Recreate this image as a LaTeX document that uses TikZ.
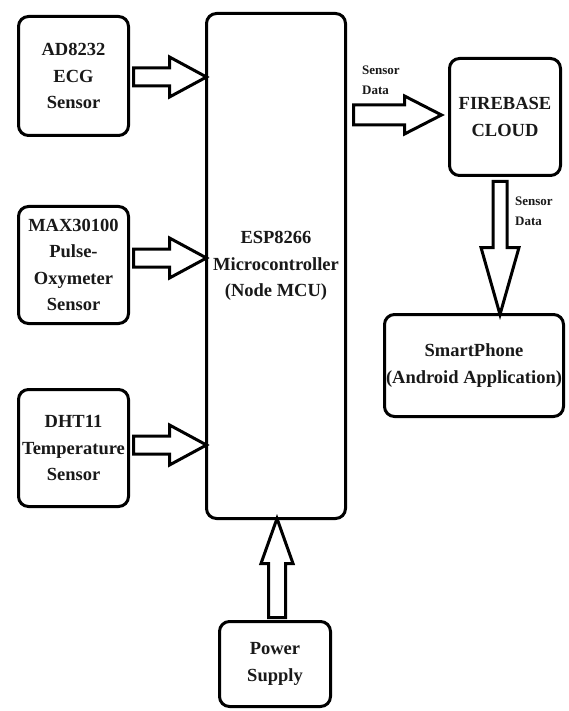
\documentclass[tikz,border=0pt]{standalone}
\usepackage{fontspec}
\setmainfont{Liberation Serif}
\usetikzlibrary{calc}
\tikzset{
  box/.style={draw=black, line width=3pt, rounded corners=10pt, fill=white, align=center,
    font=\fontsize{18.5}{26.5}\selectfont\bfseries, text=black!90, inner sep=0pt, outer sep=0pt},
  blk/.style={draw=black, line width=3pt, line join=miter},
  lbl/.style={font=\fontsize{13}{20}\selectfont\bfseries, align=left, inner sep=0pt, text=black!90}
}
% block arrow: #1 start, #2 tip, #3 half shaft, #4 half head, #5 head length
\newcommand\blockarrow[5]{%
  \coordinate (bam) at ($(#2)!#5!(#1)$);
  \draw[blk] ($(#1)!#3!90:(#2)$) -- ($(bam)!#3!90:(#2)$) -- ($(bam)!#4!90:(#2)$) -- (#2)
    -- ($(bam)!#4!-90:(#2)$) -- ($(bam)!#3!-90:(#2)$) -- ($(#1)!#3!-90:(#2)$) -- cycle;}
\begin{document}
\begin{tikzpicture}[x=1pt, y=-1pt]
\useasboundingbox (0,0) rectangle (568,711);
\node[box, minimum width=110pt, minimum height=119pt] (ad) at (73.5,76) {AD8232\\ECG\\Sensor};
\node[box, minimum width=110pt, minimum height=117pt] (max) at (73.5,265) {MAX30100\\Pulse-\\Oxymeter\\Sensor};
\node[box, minimum width=110pt, minimum height=117pt] (dht) at (73.5,448) {DHT11\\Temperature\\Sensor};
\node[box, minimum width=139pt, minimum height=505pt] (esp) at (276,266) {ESP8266\\Microcontroller\\(Node MCU)};
\node[box, minimum width=111pt, minimum height=117pt] (fb) at (505,117) {FIREBASE\\CLOUD};
\node[box, minimum width=179pt, minimum height=102pt] (sp) at (474,365.5) {SmartPhone\\(Android Application)};
\node[box, minimum width=111pt, minimum height=85pt] (ps) at (275,664) {Power\\Supply};
\node[lbl, anchor=west] (l1) at (362,80) {Sensor\\Data};
\node[lbl, anchor=west] (l2) at (515,211) {Sensor\\Data};
% arrows
\coordinate (a1s) at ($(ad.east)+(5,1)$);
\coordinate (a1e) at (esp.west |- a1s);
\blockarrow{a1s}{a1e}{9pt}{20pt}{37pt}
\coordinate (a2s) at ($(max.east)+(5,-7)$);
\coordinate (a2e) at (esp.west |- a2s);
\blockarrow{a2s}{a2e}{9pt}{20pt}{37pt}
\coordinate (a3s) at ($(dht.east)+(5,-3)$);
\coordinate (a3e) at (esp.west |- a3s);
\blockarrow{a3s}{a3e}{9pt}{20pt}{37pt}
\coordinate (a4s) at ($(esp.east |- fb.west)+(8,-2)$);
\coordinate (a4e) at ($(fb.west)+(-8,-2)$);
\blockarrow{a4s}{a4e}{10pt}{19pt}{37pt}
\coordinate (a5s) at ($(fb.south)+(-5,6)$);
\coordinate (a5e) at (a5s |- sp.north);
\blockarrow{a5s}{a5e}{7pt}{19pt}{67pt}
\coordinate (a6s) at ($(ps.north)+(2,-4)$);
\coordinate (a6e) at (a6s |- esp.south);
\blockarrow{a6s}{a6e}{8.5pt}{16pt}{45pt}
\end{tikzpicture}
\end{document}
